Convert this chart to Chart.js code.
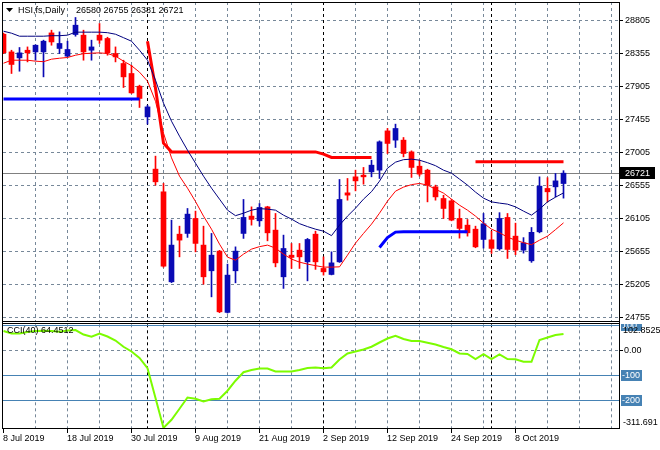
<!DOCTYPE html>
<html><head><meta charset="utf-8">
<script src="https://cdn.jsdelivr.net/npm/chart.js@4/dist/chart.umd.min.js"></script>
<style>
html,body{margin:0;padding:0;background:#fff;}
#wrap{position:relative;width:660px;height:450px;background:#fff;}
canvas{position:absolute;left:0;top:0;}
</style></head><body>
<div id="wrap"><canvas id="main" width="660" height="450"></canvas><canvas id="cci" width="660" height="450"></canvas></div>
<script>
// ---------- DATA ----------
const symbolTitle = 'HSI,fs,Daily';
const opens  = [28614,28373,28292,28396,28373,28373,28632,28420,28315,28610,28601,28396,28601,28556,28351,28215,28079,27906,27488,26776,26467,25241,25890,25900,26104,25741,25391,25659,24824,25391,25900,26136,26072,26262,25945,25309,25604,25672,25513,25890,25423,25341,25513,26453,26671,26694,26739,26762,27297,27171,27171,27011,26816,26762,26535,26376,26344,26104,26013,25958,25818,25813,25690,26118,25863,25672,25527,25922,26513,26535,26580];
const highs  = [28630,28396,28433,28441,28470,28533,28669,28646,28519,28842,28669,28533,28760,28573,28441,28260,28190,27920,27647,26953,26581,26081,25999,26240,26204,25999,25900,25670,25482,25717,26363,26262,26308,26270,26172,25877,25763,25763,25832,25931,25581,25649,26635,26649,26762,26799,26898,27161,27330,27389,27207,27025,26898,26775,26558,26420,26363,26231,26090,25999,26172,25931,26183,26172,26040,25843,25981,26671,26660,26717,26755];
const lows   = [28350,28079,28110,28237,28260,28033,28464,28351,28305,28587,28260,28260,28488,28328,28237,27888,27807,27616,27389,26558,25440,25230,25581,25846,25649,25209,25036,24820,24815,25227,25832,26013,25999,25799,25445,25151,25423,25423,25254,25410,25332,25335,25505,26353,26480,26571,26671,26649,26989,27071,26943,26663,26680,26330,26353,26104,26072,25836,25863,25705,25700,25627,25672,25559,25611,25632,25506,25908,26330,26398,26381];
const closes = [28362,28202,28360,28360,28464,28519,28509,28488,28406,28737,28373,28441,28533,28360,28305,28033,27815,27739,27624,26603,25454,25741,25809,26163,25764,25309,25604,24832,25332,25659,26118,26091,26254,25908,25499,25695,25573,25581,25818,25513,25377,25499,26363,26422,26616,26671,26830,27148,27126,27330,26989,26799,26708,26558,26398,26240,26081,25968,25908,25717,26031,25696,26104,25682,25672,25772,25915,26544,26467,26616,26721];
const maSlow = [28655,28628,28587,28587,28587,28587,28594,28594,28601,28642,28642,28642,28642,28635,28614,28567,28519,28396,28260,27988,27675,27429,27225,27034,26857,26680,26517,26367,26217,26142,26176,26217,26238,26231,26217,26149,26095,26033,25993,25958,25931,25870,26013,26136,26244,26367,26469,26612,26789,26871,26905,26912,26898,26864,26823,26762,26721,26640,26558,26463,26381,26330,26313,26299,26262,26204,26149,26231,26330,26394,26452];
const maFast = [28219,28260,28260,28260,28247,28240,28274,28287,28297,28328,28349,28356,28360,28351,28315,28247,28185,28097,27975,27700,27266,26930,26680,26517,26335,26136,25958,25754,25577,25536,25618,25686,25720,25741,25700,25618,25550,25509,25482,25461,25441,25441,25445,25604,25768,25900,26027,26176,26340,26476,26531,26565,26581,26558,26503,26449,26367,26285,26217,26136,26040,25958,25911,25849,25808,25774,25747,25808,25863,25952,26044];
// level lines: [start bar index, values...]
const resistance1Start = 18;
const resistance1 = [28519,27879,27130,27011,27011,27011,27011,27011,27011,27011,27011,27011,27011,27011,27011,27011,27011,27011,27011,27011,27011,27011,26980,26935,26935,26935,26935,26935,26935];
const resistance2Start = 59;
const resistance2 = [26875,26875,26875,26875,26875,26875,26875,26875,26875,26875,26875,26875];
const support1Start = 0;
const support1 = [27733,27733,27733,27733,27733,27733,27733,27733,27733,27733,27733,27733,27733,27733,27733,27733,27733,27733];
const support2Start = 47;
const support2 = [25709,25843,25918,25922,25922,25922,25922,25922,25922,25922,25922,25922];
const cciValues = [76,66,66,72,76,77,76,73,78,80,62,53,66,54,38,13,-6,-32,-73,-192,-311.691,-279,-235,-190,-195,-206,-197,-195,-163,-123,-89,-80,-74,-74,-86,-86,-86,-80,-72,-70,-73,-70,-38,-14,-6,2,13,30,46,57,44,36,36,29,22,12,3,-14,-16,-36,-17,-36,-18,-36,-37,-47,-47,40,50,60,64.4512];
const cciPeriod = 40;
const cciMax = 102.8525, cciMin = -311.691;
const cciLevels = [100,-100,-200];
const priceTicks = [28805,28355,27905,27455,27005,26555,26105,25655,25205,24755];
const dateLabels = ['8 Jul 2019','18 Jul 2019','30 Jul 2019','9 Aug 2019','21 Aug 2019','2 Sep 2019','12 Sep 2019','24 Sep 2019','8 Oct 2019'];
const dateLabelBars = [0,8,16,24,32,40,48,56,64];
const separatorBars = [18,40,61];

// ---------- STYLE ----------
const FONT = '9px "Liberation Sans", Arial, sans-serif';
const GRID = '#778899';
const BULL = '#0a0ab4', BEAR = '#ff0000';
const LEVEL = '#4682b4';
const XMIN = -0.0625, XMAX = 76.9375;

const pts = (arr, start=0) => arr.map((v,i)=>({x:i+start, y:v}));
const candleColor = opens.map((o,i)=> closes[i] >= o ? BULL : BEAR);

function hline(ctx,x1,x2,y){ctx.beginPath();ctx.moveTo(x1,y);ctx.lineTo(x2,y);ctx.stroke();}
function vline(ctx,x,y1,y2){ctx.beginPath();ctx.moveTo(x,y1);ctx.lineTo(x,y2);ctx.stroke();}
function drawVerticalGrid(chart){
  const {ctx, chartArea:a, scales:{x}} = chart;
  ctx.strokeStyle = GRID; ctx.lineWidth = 1; ctx.setLineDash([3,3]);
  for (let i=4;i<=76;i+=4){ const px=Math.floor(x.getPixelForValue(i))+0.5; vline(ctx,px,a.top,a.bottom); }
  ctx.strokeStyle = '#000';
  separatorBars.forEach(i=>{ const px=Math.floor(x.getPixelForValue(i))+0.5; vline(ctx,px,a.top,a.bottom); });
  ctx.setLineDash([]);
}

const mainDecor = {
  id:'mainDecor',
  beforeDatasetsDraw(chart){
    const {ctx, chartArea:a, scales:{y}} = chart;
    ctx.save();
    ctx.beginPath(); ctx.rect(a.left,a.top,a.right-a.left,a.bottom-a.top); ctx.clip();
    ctx.strokeStyle = GRID; ctx.lineWidth=1; ctx.setLineDash([3,3]);
    priceTicks.forEach(v=>{ const py=Math.round(y.getPixelForValue(v))+0.5; hline(ctx,a.left,a.right,py); });
    drawVerticalGrid(chart);
    ctx.strokeStyle = '#808080';
    const by = Math.round(y.getPixelForValue(closes[closes.length-1]))+0.5;
    hline(ctx,a.left,a.right,by);
    ctx.restore();
  },
  afterDraw(chart){
    const {ctx, chartArea:a, scales:{y}} = chart;
    ctx.save();
    // frame
    ctx.strokeStyle='#000'; ctx.lineWidth=1;
    hline(ctx,2,620,2.5); vline(ctx,2.5,2,322); vline(ctx,619.5,2,322); hline(ctx,2,620,321.5);
    // price axis
    ctx.beginPath(); ctx.rect(620,0,40,321); ctx.clip();
    ctx.font=FONT; ctx.fillStyle='#000'; ctx.textAlign='left'; ctx.textBaseline='middle';
    priceTicks.forEach(v=>{
      const py=Math.round(y.getPixelForValue(v))+0.5;
      hline(ctx,619,623,py);
      ctx.fillText(String(v),625,py);
    });
    // bid label
    const last = closes[closes.length-1];
    const by = Math.round(y.getPixelForValue(last));
    ctx.fillStyle='#000'; ctx.fillRect(620,by-6,35,12);
    ctx.fillStyle='#fff'; ctx.fillText(String(last),625,by+0.5);
    ctx.restore();
    // header
    ctx.save();
    ctx.fillStyle='#000';
    ctx.beginPath(); ctx.moveTo(6,8); ctx.lineTo(13,8); ctx.lineTo(9.5,12); ctx.closePath(); ctx.fill();
    ctx.font=FONT; ctx.textBaseline='middle'; ctx.textAlign='left';
    ctx.fillText(symbolTitle,18,10.5);
    ctx.fillText([opens[70],highs[70],lows[70],closes[70]].join(' '),76,10.5);
    ctx.restore();
  }
};

new Chart(document.getElementById('main'), {
  type:'bar',
  data:{datasets:[
    {type:'line', data:pts(maSlow), borderColor:'#00007f', borderWidth:1, pointRadius:0, tension:0, order:0},
    {type:'line', data:pts(maFast), borderColor:'#ff0000', borderWidth:1, pointRadius:0, tension:0, order:0},
    {type:'line', data:pts(resistance1,resistance1Start), borderColor:'#ff0000', borderWidth:3, pointRadius:0, tension:0, order:0},
    {type:'line', data:pts(resistance2,resistance2Start), borderColor:'#ff0000', borderWidth:3, pointRadius:0, tension:0, order:0},
    {type:'line', data:pts(support1,support1Start), borderColor:'#0000ff', borderWidth:3, pointRadius:0, tension:0, order:0},
    {type:'line', data:pts(support2,support2Start), borderColor:'#0000ff', borderWidth:3, pointRadius:0, tension:0, order:0},
    {type:'bar', data:highs.map((h,i)=>({x:i,y:[lows[i],h]})), backgroundColor:candleColor, barThickness:1, grouped:false, order:3},
    {type:'bar', data:opens.map((o,i)=>({x:i,y:[o,closes[i]]})), backgroundColor:candleColor, barThickness:5, minBarLength:1, grouped:false, order:2}
  ]},
  options:{
    responsive:false, animation:false, events:[], devicePixelRatio:1,
    layout:{padding:{left:3,right:41,top:2,bottom:129}},
    plugins:{legend:{display:false}, tooltip:{enabled:false}},
    scales:{
      x:{type:'linear', min:XMIN, max:XMAX, display:false, offset:false},
      y:{type:'linear', min:24707, max:29053, display:false}
    }
  },
  plugins:[mainDecor]
});

const cciDecor = {
  id:'cciDecor',
  beforeDatasetsDraw(chart){
    const {ctx, chartArea:a, scales:{y}} = chart;
    ctx.save();
    ctx.beginPath(); ctx.rect(a.left,a.top-1,a.right-a.left,a.bottom-a.top+1); ctx.clip();
    ctx.strokeStyle=GRID; ctx.lineWidth=1; ctx.setLineDash([3,3]);
    hline(ctx,a.left,a.right,Math.round(y.getPixelForValue(0))+0.5);
    drawVerticalGrid(chart);
    ctx.strokeStyle=LEVEL;
    cciLevels.forEach(v=>hline(ctx,a.left,a.right,Math.round(y.getPixelForValue(v))+0.5));
    ctx.restore();
  },
  afterDraw(chart){
    const {ctx, chartArea:a, scales:{x,y}} = chart;
    ctx.save();
    ctx.strokeStyle='#000'; ctx.lineWidth=1;
    hline(ctx,2,620,323.5); hline(ctx,2,620,428.5); vline(ctx,2.5,322,429); vline(ctx,619.5,322,429);
    ctx.font=FONT; ctx.textBaseline='middle'; ctx.textAlign='left';
    // level boxes
    ctx.save(); ctx.beginPath(); ctx.rect(620,324,40,110); ctx.clip();
    cciLevels.forEach(v=>{
      const py=Math.round(y.getPixelForValue(v));
      ctx.fillStyle=LEVEL; ctx.fillRect(621,py-5,21,11);
      ctx.fillStyle='#fff'; ctx.fillText(String(v),622,py+0.5);
    });
    ctx.restore();
    ctx.fillStyle='#000';
    const zy=Math.round(y.getPixelForValue(0))+0.5;
    hline(ctx,619,623,zy);
    ctx.fillText('0.00',624,zy);
    ctx.fillText(String(cciMax),623,331);
    ctx.fillText(String(cciMin),623,422.5);
    // CCI label
    ctx.fillText('CCI('+cciPeriod+') '+cciValues[cciValues.length-1],7,331);
    // date labels
    dateLabels.forEach((t,k)=>{
      const px=Math.floor(x.getPixelForValue(dateLabelBars[k]))+0.5;
      vline(ctx,px,428,433);
      ctx.fillText(t,px-0.5,438.5);
    });
    ctx.restore();
  }
};

new Chart(document.getElementById('cci'), {
  type:'line',
  data:{datasets:[{data:pts(cciValues), borderColor:'#7cfc00', borderWidth:2, pointRadius:0, tension:0}]},
  options:{
    responsive:false, animation:false, events:[], devicePixelRatio:1,
    layout:{padding:{left:3,right:41,top:324.3,bottom:22.1}},
    plugins:{legend:{display:false}, tooltip:{enabled:false}},
    scales:{
      x:{type:'linear', min:XMIN, max:XMAX, display:false, offset:false},
      y:{type:'linear', min:cciMin, max:cciMax, display:false}
    }
  },
  plugins:[cciDecor]
});
</script>
</body></html>
